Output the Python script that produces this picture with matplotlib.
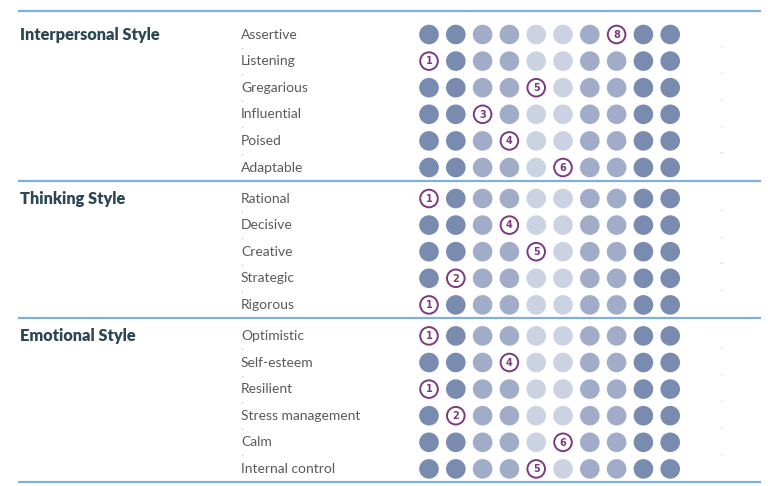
import matplotlib
matplotlib.use("Agg")
import matplotlib.pyplot as plt
from matplotlib.patches import Circle

# ---- data ----
groups = ["Interpersonal Style", "Thinking Style", "Emotional Style"]
interpersonal_items = ["Assertive", "Listening", "Gregarious", "Influential", "Poised", "Adaptable"]
interpersonal_scores = [8, 1, 5, 3, 4, 6]
thinking_items = ["Rational", "Decisive", "Creative", "Strategic", "Rigorous"]
thinking_scores = [1, 4, 5, 2, 1]
emotional_items = ["Optimistic", "Self-esteem", "Resilient", "Stress management", "Calm", "Internal control"]
emotional_scores = [1, 4, 1, 2, 6, 5]
scale_points = list(range(1, 11))
# shade level for each scale point: 0 dark, 1 medium, 2 light
scale_shades = [0, 0, 1, 1, 2, 2, 1, 1, 0, 0]

group_items = [interpersonal_items, thinking_items, emotional_items]
group_scores = [interpersonal_scores, thinking_scores, emotional_scores]

# ---- style ----
shade_colors = ["#7a8bb0", "#a1adc8", "#cbd3e2"]
line_color = "#7fb0dc"
purple = "#7b3a7e"
title_color = "#2d4654"
label_color = "#5a5a5a"

W, H = 768, 486
fig = plt.figure(figsize=(W / 100, H / 100), dpi=100)
ax = fig.add_axes([0, 0, 1, 1])
ax.set_xlim(0, W)
ax.set_ylim(H, 0)
ax.set_aspect("equal")
ax.axis("off")

x_first, dx = 429, 26.8
row_step = 26.6
group_gap = 31.0
line_x0, line_x1 = 18, 761
r = 9.8

def col_x(c):
    return x_first + dx * (c - 1)

ax.plot([line_x0, line_x1], [11, 11], color=line_color, lw=1.6, solid_capstyle="butt")
y = 34.5
for gi, (gname, items, scores) in enumerate(zip(groups, group_items, group_scores)):
    ax.text(20, y, gname, fontsize=11.8, fontweight="heavy", color=title_color,
            family="Lato", va="center", ha="left")
    for ri, (item, sc) in enumerate(zip(items, scores)):
        ax.text(241, y, item, fontsize=10, fontweight="normal", color=label_color,
                family="Lato", va="center", ha="left")
        for c, sh in zip(scale_points, scale_shades):
            cx = col_x(c)
            if c == sc:
                ax.add_patch(Circle((cx, y), r - 1.0, facecolor="white",
                                    edgecolor=purple, lw=1.4, zorder=3))
                ax.text(cx, y + 0.3, str(c), fontsize=7, fontweight="bold",
                        color=purple, ha="center", va="center", zorder=4,
                        family="DejaVu Sans")
            else:
                ax.add_patch(Circle((cx, y), r, facecolor=shade_colors[sh],
                                    edgecolor="none", zorder=2))
        if ri < len(items) - 1:
            ax.plot([241.5], [y + 13], marker="s", ms=0.8, color="#bbbbbb", mew=0)
            ax.plot([721], [y + 11.5], marker="s", ms=0.8, color="#bbbbbb", mew=0)
            y += row_step
    sep_y = y + 13.3
    ax.plot([line_x0, line_x1], [sep_y, sep_y], color=line_color, lw=1.6,
            solid_capstyle="butt")
    y += group_gap

fig.savefig("out.png", dpi=100)
